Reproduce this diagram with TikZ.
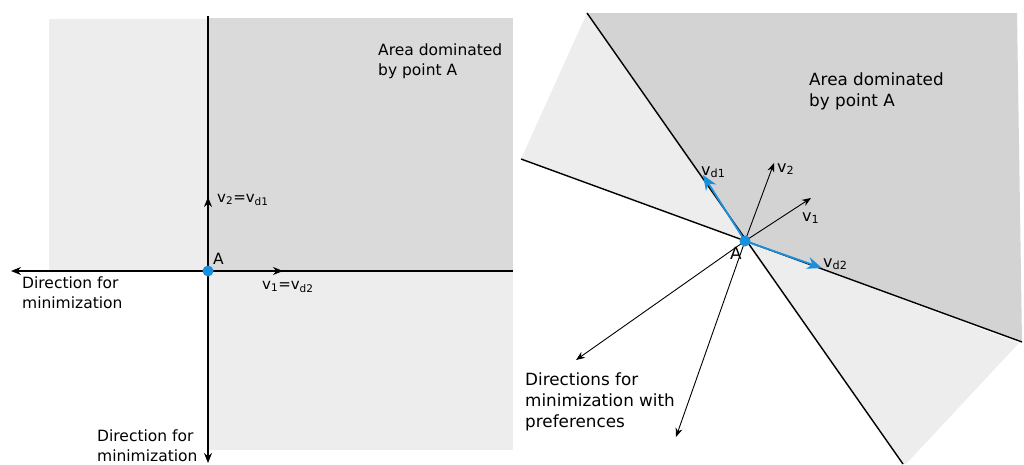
\documentclass[tikz,border=0pt]{standalone}
\usepackage{fontspec}
\setmainfont{DejaVu Sans}
\usetikzlibrary{arrows.meta}
\definecolor{lightg}{HTML}{EDEDED}
\definecolor{darkgL}{HTML}{DADADA}
\definecolor{darkgR}{HTML}{D3D3D3}
\definecolor{blueA}{HTML}{1A8FDC}
\tikzset{
  axis/.style={line width=1.4pt, -{Stealth[length=10pt,width=8pt]}},
  bline/.style={line width=1.4pt},
  thinarr/.style={line width=0.9pt, -{Stealth[length=9pt,width=7pt]}},
  bluearr/.style={line width=1.8pt, draw=blueA, -{Stealth[length=15pt,width=12pt]}},
  dot/.style={circle, fill=blueA, inner sep=0pt, minimum size=11pt},
  txt/.style={font=\fontsize{15.5}{20}\selectfont, align=left, inner sep=0pt},
  txtR/.style={font=\fontsize{16.8}{21}\selectfont, align=left, inner sep=0pt},
  vlab/.style={font=\fontsize{15}{18}\selectfont, inner sep=0pt},
  vlabR/.style={font=\fontsize{16}{18}\selectfont, inner sep=0pt},
}
\begin{document}
\begin{tikzpicture}[x=1pt,y=-1pt]
\useasboundingbox (0,0) rectangle (1024,464);
% ---------- left panel ----------
\fill[lightg] (49,19) rectangle (208,271);
\fill[lightg] (208,271) rectangle (513,450);
\fill[darkgL] (208,18) rectangle (513,271);
\coordinate (LA) at (208,271);
\coordinate (Ltop) at (208,16);
\coordinate (Lbot) at (208,463);
\coordinate (Lleft) at (11,271);
\coordinate (Lright) at (513,271);
\coordinate (Lv1) at (283,271);
\coordinate (Lv2) at (208,197);
\draw[bline] (Ltop) -- (LA);
\draw[axis] (LA) -- (Lbot);
\draw[axis] (Lright) -- (Lleft);
\draw[axis] (LA) -- (Lv1);
\draw[axis] (LA) -- (Lv2);
\node[dot] (A1) at (LA) {};
\node[txt, anchor=base west] (lA) at (213,264) {A};
\node[vlab, anchor=base west] (lv2) at (217,202) {v\textsubscript{2}=v\textsubscript{d1}};
\node[vlab, anchor=base west] (lv1) at (262,289) {v\textsubscript{1}=v\textsubscript{d2}};
\node[txt, anchor=north west] (ldir1) at (22,277) {Direction for\\minimization};
\node[txt, anchor=north west] (ldir2) at (97,430) {Direction for\\minimization};
\node[txt, anchor=north west] (larea) at (378,44) {Area dominated\\by point A};
% ---------- right panel ----------
\coordinate (RA) at (745,241);
\coordinate (P1) at (587,13);
\coordinate (P2) at (1017,13);
\coordinate (P3) at (1022,342);
\coordinate (P4) at (521,159);
\coordinate (P5) at (903,464);
\coordinate (P6) at (1019,343);
\fill[lightg] (P1) -- (P4) -- (RA) -- cycle;
\fill[lightg] (RA) -- (P6) -- (906,464) -- (P5) -- cycle;
\fill[darkgR] (P1) -- (P2) -- (P3) -- (RA) -- cycle;
\draw[bline] (P4) -- (P3);
\draw[bline] (P1) -- (P5);
\coordinate (Rv1) at (811,198);
\coordinate (Rv2) at (774,163);
\coordinate (Rd1) at (703,175);
\coordinate (Rd2) at (822,268);
\coordinate (Rm1) at (576,360);
\coordinate (Rm2) at (676,437);
\draw[thinarr] (RA) -- (Rv1);
\draw[thinarr] (RA) -- (Rv2);
\draw[thinarr] (RA) -- (Rm1);
\draw[thinarr] (RA) -- (Rm2);
\draw[bluearr] (RA) -- (Rd1);
\draw[bluearr] (RA) -- (Rd2);
\node[dot] (A2) at (RA) {};
\node[txtR, anchor=base west] (rA) at (730,259) {A};
\node[vlabR, anchor=base west] (rd1) at (701,175) {v\textsubscript{d1}};
\node[vlabR, anchor=base west] (rv2) at (777,172) {v\textsubscript{2}};
\node[vlabR, anchor=base west] (rv1) at (802,221) {v\textsubscript{1}};
\node[vlabR, anchor=base west] (rd2) at (823,267) {v\textsubscript{d2}};
\node[txtR, anchor=north west] (rarea) at (809,73) {Area dominated\\by point A};
\node[txtR, anchor=north west] (rdir) at (525,373) {Directions for\\minimization with\\preferences};
\end{tikzpicture}
\end{document}
